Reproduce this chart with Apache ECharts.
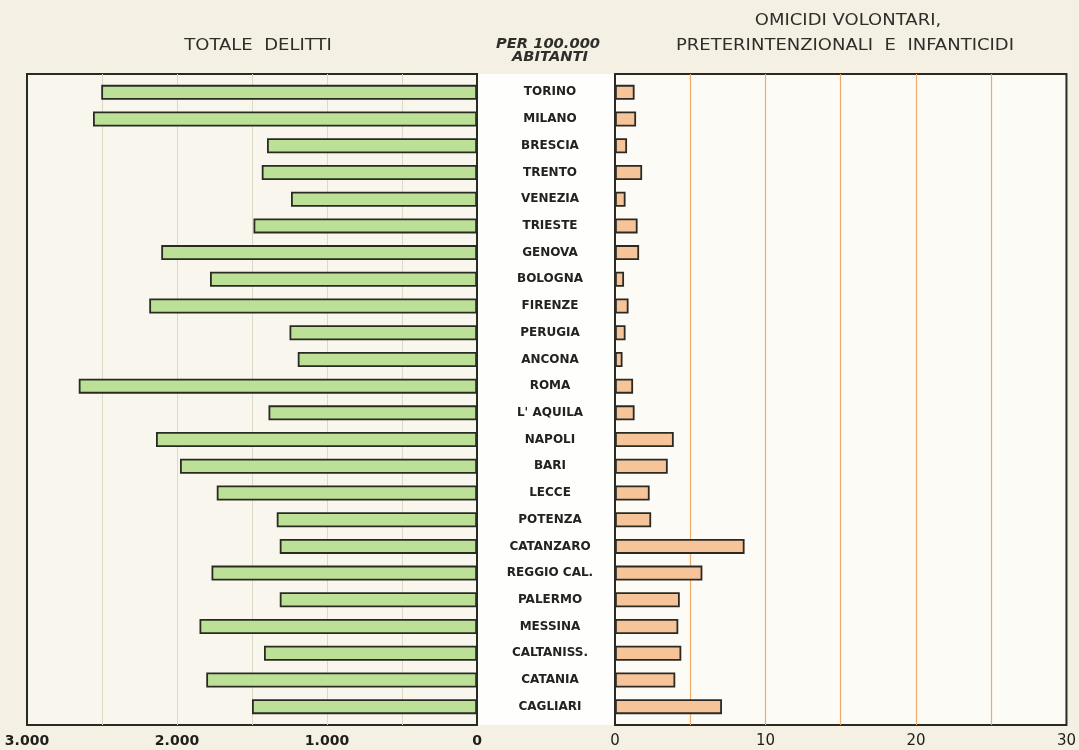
<!DOCTYPE html>
<html>
<head>
<meta charset="utf-8">
<title>Delitti per 100.000 abitanti</title>
<script src="https://cdn.jsdelivr.net/npm/echarts@6/dist/echarts.min.js"></script>
<style>
  html, body { margin: 0; padding: 0; background: #f5f0e4; }
  #chart { width: 1079px; height: 750px; }
</style>
</head>
<body>
<div id="chart"></div>
<script>
// Province capitals, top to bottom
const cities = [
  'TORINO', 'MILANO', 'BRESCIA', 'TRENTO', 'VENEZIA', 'TRIESTE', 'GENOVA',
  'BOLOGNA', 'FIRENZE', 'PERUGIA', 'ANCONA', 'ROMA', "L' AQUILA", 'NAPOLI',
  'BARI', 'LECCE', 'POTENZA', 'CATANZARO', 'REGGIO CAL.', 'PALERMO',
  'MESSINA', 'CALTANISS.', 'CATANIA', 'CAGLIARI'
];

// Totale delitti per 100.000 abitanti
const totaleDelitti = [
  2505, 2560, 1400, 1435, 1240, 1490, 2105,
  1780, 2185, 1250, 1195, 2655, 1390, 2140,
  1980, 1735, 1335, 1315, 1770, 1315,
  1850, 1420, 1805, 1500
];

// Omicidi volontari, preterintenzionali e infanticidi per 100.000 abitanti
const omicidi = [
  1.3, 1.4, 0.8, 1.8, 0.7, 1.5, 1.6,
  0.6, 0.9, 0.7, 0.5, 1.2, 1.3, 3.9,
  3.5, 2.3, 2.4, 8.6, 5.8, 4.3,
  4.2, 4.4, 4.0, 7.1
];

const leftMax = 3000, leftStep = 500, leftLabelStep = 1000;
const rightMax = 30, rightStep = 5, rightLabelStep = 10;

const ink = '#2a2a24';
const labelFont = 'DejaVu Sans';

function thousands(v) {
  return String(v).replace(/\B(?=(\d{3})+(?!\d))/g, '.');
}

// centred heading text, widened a little like the lettering of the original plate
function heading(text, x, y, font, stretch) {
  return {
    type: 'text', x: x, y: y, scaleX: stretch || 1,
    style: { text: text, font: font, fill: '#2e2e2a',
             textAlign: 'center', textVerticalAlign: 'middle',
             align: 'center', verticalAlign: 'middle' }
  };
}

const chart = echarts.init(document.getElementById('chart'), null, { renderer: 'canvas' });

chart.setOption({
  backgroundColor: '#f5f0e4',
  animation: false,
  graphic: [
    // white column holding the city names
    { type: 'rect', z: -10, shape: { x: 477, y: 74, width: 138, height: 651 },
      style: { fill: '#fefefc' } },
    heading('TOTALE  DELITTI', 258, 46, '15px "DejaVu Sans"', 1.2),
    heading('PER 100.000', 548, 44, 'italic bold 14px "DejaVu Sans"', 1.05),
    heading('ABITANTI', 550, 57, 'italic bold 14px "DejaVu Sans"', 1.05),
    heading('OMICIDI VOLONTARI,', 848, 21, '15px "DejaVu Sans"', 1.2),
    heading('PRETERINTENZIONALI  E  INFANTICIDI', 845, 46, '15px "DejaVu Sans"', 1.2)
  ],
  grid: [
    // frames (with grid lines and tick labels)
    { left: 27, width: 450, top: 74, height: 651, show: true,
      backgroundColor: '#f9f6ee', borderColor: ink, borderWidth: 2 },
    // bar area, slightly inset from the frame
    { left: 27, width: 450, top: 79, height: 641 },
    { left: 615, width: 452, top: 74, height: 651, show: true,
      backgroundColor: '#fcfbf6', borderColor: ink, borderWidth: 2 },
    { left: 615, width: 452, top: 79, height: 641 }
  ],
  xAxis: [
    { gridIndex: 0, type: 'value', inverse: true, min: 0, max: leftMax, interval: leftStep,
      axisLine: { show: false }, axisTick: { show: false },
      splitLine: { show: true, showMinLine: false, showMaxLine: false,
                   lineStyle: { color: '#dcdac6', width: 1 } },
      axisLabel: { margin: 9, color: '#1e1e1a', fontFamily: labelFont, fontWeight: 'bold', fontSize: 14,
                   formatter: v => (v % leftLabelStep === 0 ? thousands(v) : '') } },
    { gridIndex: 1, type: 'value', inverse: true, min: 0, max: leftMax, show: false },
    { gridIndex: 2, type: 'value', min: 0, max: rightMax, interval: rightStep,
      axisLine: { show: false }, axisTick: { show: false },
      splitLine: { show: true, showMinLine: false, showMaxLine: false,
                   lineStyle: { color: '#f0ac66', width: 1.2 } },
      axisLabel: { margin: 9, color: '#1e1e1a', fontFamily: labelFont, fontSize: 15,
                   formatter: v => (v % rightLabelStep === 0 ? String(v) : '') } },
    { gridIndex: 3, type: 'value', min: 0, max: rightMax, show: false }
  ],
  yAxis: [
    { gridIndex: 0, type: 'value', show: false },
    { gridIndex: 1, type: 'category', data: cities, inverse: true, position: 'right',
      axisLine: { show: false }, axisTick: { show: false },
      axisLabel: { margin: 73, align: 'center', color: '#222', fontFamily: labelFont,
                   fontWeight: 'bold', fontSize: 12 } },
    { gridIndex: 2, type: 'value', show: false },
    { gridIndex: 3, type: 'category', data: cities, inverse: true, show: false }
  ],
  series: [
    { type: 'bar', xAxisIndex: 1, yAxisIndex: 1, data: totaleDelitti, barWidth: 15,
      itemStyle: { color: '#bde097', borderColor: ink, borderWidth: 1.8 } },
    { type: 'bar', xAxisIndex: 3, yAxisIndex: 3, data: omicidi, barWidth: 15,
      itemStyle: { color: '#f7c49a', borderColor: ink, borderWidth: 1.8 } }
  ]
});
</script>
</body>
</html>
